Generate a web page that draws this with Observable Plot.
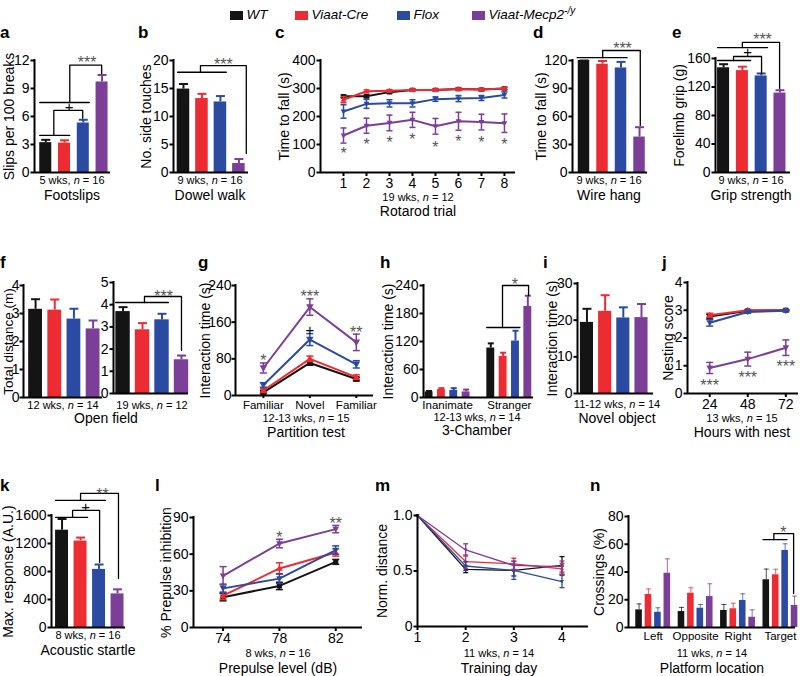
<!DOCTYPE html>
<html>
<head>
<meta charset="utf-8">
<script src="https://cdn.jsdelivr.net/npm/d3@7"></script>
<script src="https://cdn.jsdelivr.net/npm/@observablehq/plot@0.6"></script>
<style>
  html, body { margin: 0; padding: 0; background: #fff; }
  #fig { position: relative; width: 800px; height: 676px; overflow: hidden; background: #fff;
         font-family: "Liberation Sans", Arial, Helvetica, sans-serif; color: #000; }
  .lab { position: absolute; white-space: nowrap; transform: translateX(-50%); line-height: 1; }
  .let { position: absolute; font-weight: bold; font-size: 17px; line-height: 1; }
  .sw { position: absolute; width: 13px; height: 9px; }
  .lt { position: absolute; font-style: italic; font-size: 13.5px; line-height: 1; white-space: nowrap; }
  .lt sup { font-size: 10px; vertical-align: 0; position: relative; top: -5px; }
</style>
</head>
<body>
<div id="fig"></div>
<script>
// ---------------- data ----------------
const groups = ["WT", "Viaat-Cre", "Flox", "Viaat-Mecp2"];
const groupColors = ["#141414", "#ec2b32", "#2a4ba1", "#7b3f98"];

// (a) Footslips
const footslipsMean = [3.2, 3.15, 5.3, 9.7];
const footslipsSem  = [0.3, 0.3, 0.35, 0.75];
const footslipsTicks = [0, 3, 6, 9, 12];
// (b) Dowel walk
const dowelMean = [14.9, 13.2, 12.6, 1.6];
const dowelSem  = [0.9, 0.85, 1.05, 0.8];
const dowelTicks = [0, 5, 10, 15, 20];
// (c) Rotarod
const rotarodTrial = [1, 2, 3, 4, 5, 6, 7, 8];
const rotarodWT    = [272, 272, 287, 295, 295, 298, 296, 300];
const rotarodCre   = [260, 290, 292, 295, 295, 298, 296, 300];
const rotarodFlox  = [218, 245, 247, 247, 262, 264, 266, 277];
const rotarodMecp2 = [132, 167, 177, 188, 165, 183, 180, 176];
const rotarodWTSem    = [5, 5, 5, 4, 4, 4, 4, 4];
const rotarodCreSem   = [11, 5, 4, 4, 4, 4, 4, 4];
const rotarodFloxSem  = [24, 16, 13, 13, 8, 11, 9, 11];
const rotarodMecp2Sem = [27, 27, 28, 27, 28, 32, 28, 33];
const rotarodStarY = [81, 114, 120, 132, 102, 122, 120, 114];
const rotarodTicks = [0, 100, 200, 300, 400];
// (d) Wire hang
const wireMean = [120, 116, 112, 38];
const wireSem  = [0, 3.5, 6.5, 10.5];
const wireTicks = [0, 30, 60, 90, 120];
// (e) Grip strength
const gripMean = [147, 143, 135.5, 111.5];
const gripSem  = [5, 5.5, 3.5, 4];
const gripTicks = [0, 40, 80, 120, 160];
// (f) Open field
const openField12Mean = [3.15, 3.12, 2.8, 2.45];
const openField12Sem  = [0.36, 0.38, 0.37, 0.3];
const openField19Mean = [3.69, 2.87, 3.32, 1.52];
const openField19Sem  = [0.2, 0.3, 0.27, 0.19];
// (g) Partition test
const partitionPhase = ["Familiar", "Novel", "Familiar"];
const partitionWT    = [7, 71, 36];
const partitionCre   = [11, 80, 40];
const partitionFlox  = [23, 122, 68];
const partitionMecp2 = [60, 193, 116];
const partitionWTSem    = [3, 5, 4];
const partitionCreSem   = [4, 6, 5];
const partitionFloxSem  = [5, 13, 8];
const partitionMecp2Sem = [11, 18, 18];
const partitionTicks = [0, 80, 160, 240];
// (h) 3-Chamber
const chamberSide = ["Inanimate", "Stranger"];
const chamberInanimate    = [12, 17, 15, 12];
const chamberInanimateSem = [2, 3, 5, 5];
const chamberStranger     = [106, 88, 121, 195];
const chamberStrangerSem  = [10, 8, 22, 23];
const chamberTicks = [0, 60, 120, 180, 240];
// (i) Novel object
const novelObjectMean = [19.4, 22.4, 20.6, 20.7];
const novelObjectSem  = [3.7, 4.4, 2.9, 3.7];
const novelObjectTicks = [0, 10, 20, 30];
// (j) Nesting
const nestHours = [24, 48, 72];
const nestWT    = [2.77, 2.98, 3.0];
const nestCre   = [2.82, 3.0, 3.0];
const nestFlox  = [2.55, 2.94, 2.98];
const nestMecp2 = [0.92, 1.24, 1.65];
const nestWTSem    = [0.08, 0.03, 0.02];
const nestCreSem   = [0.07, 0.02, 0.02];
const nestFloxSem  = [0.12, 0.05, 0.03];
const nestMecp2Sem = [0.2, 0.25, 0.28];
const nestStarY = [0.41, 0.72, 1.11];
const nestTicks = [0, 1, 2, 3, 4];
// (k) Acoustic startle
const startleMean = [1390, 1235, 830, 480];
const startleSem  = [160, 50, 70, 65];
const startleTicks = [0, 400, 800, 1200, 1600];
// (l) Prepulse inhibition
const prepulseDb = [74, 78, 82];
const ppiWT    = [24.8, 34, 53.7];
const ppiCre   = [26, 48.3, 61.4];
const ppiFlox  = [32, 40, 63.3];
const ppiMecp2 = [42.3, 68.7, 80.5];
const ppiWTSem    = [3, 3, 2];
const ppiCreSem   = [3, 4.6, 3];
const ppiFloxSem  = [3.5, 4, 3.5];
const ppiMecp2Sem = [7.5, 3.5, 3];
const ppiTicks = [0, 30, 60, 90];
// (m) Training day
const trainingDay = [1, 2, 3, 4];
const mwmWT    = [1, 0.515, 0.505, 0.55];
const mwmCre   = [1, 0.585, 0.565, 0.52];
const mwmFlox  = [1, 0.545, 0.505, 0.405];
const mwmMecp2 = [1, 0.69, 0.55, 0.54];
const mwmWTSem    = [0, 0.03, 0.05, 0.08];
const mwmCreSem   = [0, 0.06, 0.05, 0.05];
const mwmFloxSem  = [0, 0.04, 0.08, 0.055];
const mwmMecp2Sem = [0, 0.055, 0.04, 0.05];
const mwmTicks = [0, 0.5, 1];
// (n) Probe trial crossings
const platform = ["Left", "Opposite", "Right", "Target"];
const crossWT    = [12.7, 11.5, 12.3, 34.4];
const crossCre   = [23.8, 24.7, 13.5, 38];
const crossFlox  = [11, 13.9, 19.5, 55.5];
const crossMecp2 = [39.1, 22.3, 7.4, 15.9];
const crossWTSem    = [4.3, 3, 4.3, 7.7];
const crossCreSem   = [4, 3.9, 4, 4];
const crossFloxSem  = [3.2, 2.7, 4.8, 4.8];
const crossMecp2Sem = [10.4, 9.2, 5.3, 6.7];
const crossTicks = [0, 20, 40, 60, 80];

// ---------------- helpers ----------------
const FONT = '"Liberation Sans", Arial, Helvetica, sans-serif';
const fig = document.getElementById("fig");
const M = 60;

const hcap = { draw(ctx, size) { const r = Math.sqrt(size / Math.PI); ctx.moveTo(-r, 0); ctx.lineTo(r, 0); } };
const symSquare = { draw(ctx, size) { const r = Math.sqrt(size / Math.PI) * 0.85; ctx.moveTo(-r, -r); ctx.lineTo(r, -r); ctx.lineTo(r, r); ctx.lineTo(-r, r); ctx.closePath(); } };
const symUp = { draw(ctx, size) { const r = Math.sqrt(size / Math.PI); ctx.moveTo(0, -r * 1.15); ctx.lineTo(r * 1.1, r * 0.8); ctx.lineTo(-r * 1.1, r * 0.8); ctx.closePath(); } };
const symDown = { draw(ctx, size) { const r = Math.sqrt(size / Math.PI); ctx.moveTo(0, r * 1.15); ctx.lineTo(r * 1.1, -r * 0.8); ctx.lineTo(-r * 1.1, -r * 0.8); ctx.closePath(); } };
const groupSymbols = [symSquare, symUp, symDown, symDown];

function barRows(means, sems, pos) {
  return means.map((m, k) => ({x: pos(k), m, s: sems[k], c: groupColors[k]}));
}
function seriesOf(xs, means, sems) {
  return means.map((mean, k) => ({k, xs, mean, sem: sems[k]}));
}

function panel(p) {
  const [fx0, fx1, fy0, fy1] = p.frame;
  const marks = [];
  const ew = p.ew ?? 2, capR = p.capR ?? 4.5, eo = p.eo ?? 1;
  if (p.bars) {
    marks.push(Plot.rectY(p.bars, {x1: d => d.x - p.hw, x2: d => d.x + p.hw, y1: 0, y2: "m", fill: "c"}));
    marks.push(Plot.ruleX(p.bars, {x: "x", y1: "m", y2: d => d.m + d.s, stroke: "c", strokeWidth: ew, strokeOpacity: eo}));
    marks.push(Plot.dot(p.bars, {x: "x", y: d => d.m + d.s, symbol: hcap, r: capR, fill: "none", stroke: "c", strokeWidth: ew, strokeOpacity: eo}));
  }
  if (p.series) {
    for (const s of p.series) {
      const col = groupColors[s.k];
      const rows = s.xs.map((x, j) => ({x, m: s.mean[j], s: s.sem[j]}));
      const err = rows.filter(d => d.s > 0);
      marks.push(Plot.line(rows, {x: "x", y: "m", stroke: col, strokeWidth: p.lw}));
      marks.push(Plot.ruleX(err, {x: "x", y1: d => d.m - d.s, y2: d => d.m + d.s, stroke: col, strokeWidth: p.lew}));
      marks.push(Plot.dot(err, {x: "x", y: d => d.m + d.s, symbol: hcap, r: p.lcap, fill: "none", stroke: col, strokeWidth: p.lew}));
      marks.push(Plot.dot(err, {x: "x", y: d => d.m - d.s, symbol: hcap, r: p.lcap, fill: "none", stroke: col, strokeWidth: p.lew}));
      marks.push(Plot.dot(rows, {x: "x", y: "m", symbol: groupSymbols[s.k], r: p.mr, fill: col, stroke: "none"}));
    }
  }
  // axes (Prism style)
  marks.push(Plot.ruleY([p.yd[0]], {x1: p.xd[0], x2: p.xd[1], stroke: "#000", strokeWidth: 2}));
  marks.push(Plot.ruleX([p.xd[0]], {y1: p.yd[0], y2: p.yd[1], stroke: "#000", strokeWidth: 2, strokeLinecap: "square"}));
  marks.push(Plot.axisY({ticks: p.yTicks, tickFormat: p.yFmt || (d => String(d)), tickSize: 3.5, tickPadding: p.yPad ?? 1.5,
    fontSize: 14, strokeWidth: 2, color: "#000", label: null}));
  if (p.xTicks) {
    marks.push(Plot.axisX({ticks: p.xTicks, tickFormat: p.xFmt || (d => String(d)), tickSize: p.xTickSize ?? 4,
      tickPadding: p.xPad ?? 2, fontSize: p.xFont ?? 14, strokeWidth: 2, color: "#000", label: null}));
  }
  if (p.ylab) {
    marks.push(Plot.text([p.ylab], {frameAnchor: "left", dx: -p.ydx, rotate: -90, textAnchor: "middle",
      lineAnchor: "middle", fontSize: p.yLabFont ?? 14, fill: "#000"}));
  }
  if (p.brackets) {
    const pts = p.brackets.flatMap((pl, id) => pl.map(([x, y]) => ({id, x, y})));
    marks.push(Plot.line(pts, {x: "x", y: "y", z: "id", stroke: "#000", strokeWidth: 1.3}));
  }
  if (p.stars) marks.push(Plot.text(p.stars, {x: "x", y: "y", text: "t", fontSize: 16, fill: "#555", dy: 4}));
  if (p.plus) marks.push(Plot.text(p.plus, {x: "x", y: "y", text: "t", fontSize: 15, fill: "#000"}));

  const svg = Plot.plot({
    width: fx1 - fx0 + 2 * M, height: fy1 - fy0 + 2 * M,
    marginLeft: M, marginRight: M, marginTop: M, marginBottom: M,
    x: {type: "linear", domain: p.xd, axis: null},
    y: {type: "linear", domain: p.yd, axis: null},
    color: {type: "identity"},
    marks
  });
  svg.style.position = "absolute";
  svg.style.left = (fx0 - M) + "px";
  svg.style.top = (fy0 - M) + "px";
  svg.style.overflow = "visible";
  svg.style.background = "transparent";
  svg.style.maxWidth = "none";
  svg.style.fontFamily = FONT;
  svg.style.fontSize = "14px";
  fig.appendChild(svg);
}

function text(html, cx, cy, size) {
  const d = document.createElement("div");
  d.className = "lab";
  d.style.left = cx + "px";
  d.style.top = (cy - size / 2) + "px";
  d.style.fontSize = size + "px";
  d.innerHTML = html;
  fig.appendChild(d);
}
function letter(t, x, baseline) {
  const d = document.createElement("div");
  d.className = "let";
  d.style.left = x + "px";
  d.style.top = (baseline - 14) + "px";
  d.textContent = t;
  fig.appendChild(d);
}

// ---------------- legend ----------------
const legendHtml = ["WT", "Viaat-Cre", "Flox", "Viaat-Mecp2<sup>-/y</sup>"];
const legendSwatchX = [230, 295, 397, 472];
groups.forEach((g, k) => {
  const sw = document.createElement("div");
  sw.className = "sw";
  sw.style.left = legendSwatchX[k] + "px";
  sw.style.top = "10.5px";
  sw.style.background = groupColors[k];
  fig.appendChild(sw);
  const t = document.createElement("div");
  t.className = "lt";
  t.style.left = (legendSwatchX[k] + 16.5) + "px";
  t.style.top = "8px";
  t.innerHTML = legendHtml[k];
  fig.appendChild(t);
});

// ---------------- panels ----------------
const simple = k => k;

// a
panel({frame: [34, 110, 60, 172], xd: [-0.6, 3.45], yd: [0, 12], yTicks: footslipsTicks,
  bars: barRows(footslipsMean, footslipsSem, simple), hw: 0.32,
  ylab: "Slips per 100 breaks", ydx: 25,
  brackets: [
    [[-0.32, 7.5], [2.32, 7.5]],
    [[1.28, 7.5], [1.28, 11.5], [2.98, 11.5], [2.98, 10.6]],
    [[-0.32, 3.97], [1.28, 3.97]],
    [[0.43, 3.97], [0.43, 6.65], [1.97, 6.65], [1.97, 5.8]]
  ],
  stars: [{x: 2.2, y: 12.2, t: "***"}],
  plus: [{x: 1.25, y: 6.97, t: "+"}]
});
// b
panel({frame: [173, 248, 60, 172], xd: [-0.54, 3.52], yd: [0, 20], yTicks: dowelTicks,
  bars: barRows(dowelMean, dowelSem, simple), hw: 0.34,
  ylab: "No. side touches", ydx: 26.5,
  brackets: [
    [[-0.32, 17.9], [2.32, 17.9]],
    [[0.92, 17.9], [0.92, 19.1], [3.4, 19.1], [3.4, 3.4]]
  ],
  stars: [{x: 2.16, y: 20.0, t: "***"}]
});
// c
panel({frame: [320, 515, 60, 172], xd: [0, 8.48], yd: [0, 400], yTicks: rotarodTicks,
  xTicks: rotarodTrial,
  series: seriesOf(rotarodTrial, [rotarodWT, rotarodCre, rotarodFlox, rotarodMecp2],
                   [rotarodWTSem, rotarodCreSem, rotarodFloxSem, rotarodMecp2Sem]),
  lw: 2, lew: 1.5, lcap: 3, mr: 2.6,
  ylab: "Time to fall (s)", ydx: 36,
  stars: rotarodTrial.map((x, j) => ({x, y: rotarodStarY[j], t: "*"}))
});
// d
panel({frame: [572, 647, 60, 172], xd: [-0.62, 3.43], yd: [0, 120], yTicks: wireTicks,
  bars: barRows(wireMean, wireSem, simple), hw: 0.31,
  ylab: "Time to fall (s)", ydx: 31,
  brackets: [
    [[-0.37, 123], [2.33, 123]],
    [[1.01, 123], [1.01, 130.7], [3.04, 130.7], [3.04, 50.4]]
  ],
  stars: [{x: 2.08, y: 136.5, t: "***"}]
});
// e
panel({frame: [715, 790, 58, 172], xd: [-0.43, 3.56], yd: [0, 160], yTicks: gripTicks,
  bars: barRows(gripMean, gripSem, simple), hw: 0.32,
  ylab: "Forelimb grip (g)", ydx: 36,
  brackets: [
    [[-0.32, 175.4], [2.34, 175.4]],
    [[1.0, 175.4], [1.0, 182.5], [2.98, 182.5], [2.98, 117.9]],
    [[-0.32, 157.2], [1.44, 157.2]],
    [[0.53, 157.2], [0.53, 162.8], [2.02, 162.8], [2.02, 139]]
  ],
  stars: [{x: 2.07, y: 192.3, t: "***"}],
  plus: [{x: 1.28, y: 168.4, t: "+"}]
});
// f (left, 12 wks)
panel({frame: [23, 102, 285, 397], xd: [-0.63, 3.49], yd: [0, 4], yTicks: [0, 1, 2, 3, 4],
  bars: barRows(openField12Mean, openField12Sem, simple), hw: 0.36, yPad: 0.5,
  ylab: "Total distance (m)", ydx: 15, yLabFont: 13.5
});
// f (right, 19 wks)
panel({frame: [113, 188, 282, 393], xd: [-0.49, 3.36], yd: [0, 5], yTicks: [0, 1, 2, 3, 4, 5],
  bars: barRows(openField19Mean, openField19Sem, simple), hw: 0.37,
  brackets: [
    [[-0.38, 4.1], [2.33, 4.1]],
    [[1.1, 4.1], [1.1, 4.37], [3.0, 4.37], [3.0, 1.94]]
  ],
  stars: [{x: 2.08, y: 4.55, t: "***"}]
});
// g
panel({frame: [235, 373, 285, 395], xd: [0.4, 3.37], yd: [0, 240], yTicks: partitionTicks,
  xTicks: [1, 2, 3], xFmt: d => partitionPhase[Math.round(d) - 1], xFont: 11.5, xTickSize: 3,
  series: seriesOf([1, 2, 3], [partitionWT, partitionCre, partitionFlox, partitionMecp2],
                   [partitionWTSem, partitionCreSem, partitionFloxSem, partitionMecp2Sem]),
  lw: 2, lew: 1.5, lcap: 3.5, mr: 3.4, yPad: 0.5,
  ylab: "Interaction time (s)", ydx: 30,
  stars: [{x: 1, y: 84, t: "*"}, {x: 2, y: 223, t: "***"}, {x: 3, y: 146, t: "**"}],
  plus: [{x: 2, y: 143, t: "+"}]
});
// h
panel({frame: [423, 533, 285, 397], xd: [-0.45, 8.46], yd: [0, 240], yTicks: chamberTicks,
  bars: [...barRows(chamberInanimate, chamberInanimateSem, k => k),
         ...barRows(chamberStranger, chamberStrangerSem, k => 5 + k)], hw: 0.32, capR: 3,
  xTicks: [1.5, 6.5], xFmt: d => chamberSide[Math.round((d - 1.5) / 5)], xFont: 11.5, xTickSize: 0, xPad: 3,
  ylab: "Interaction time (s)", ydx: 34.5,
  brackets: [
    [[4.67, 150], [7.36, 150]],
    [[5.95, 150], [5.95, 240], [8.06, 240], [8.06, 218.6]]
  ],
  stars: [{x: 6.95, y: 250, t: "*"}]
});
// i
panel({frame: [577, 653, 283, 393], xd: [-0.52, 3.66], yd: [0, 30], yTicks: novelObjectTicks,
  bars: barRows(novelObjectMean, novelObjectSem, simple), hw: 0.36,
  ylab: "Interaction time (s)", ydx: 25
});
// j
panel({frame: [687, 798, 282, 393], xd: [10, 80], yd: [0, 4], yTicks: nestTicks,
  xTicks: nestHours,
  series: seriesOf(nestHours, [nestWT, nestCre, nestFlox, nestMecp2],
                   [nestWTSem, nestCreSem, nestFloxSem, nestMecp2Sem]),
  lw: 2, lew: 1.5, lcap: 3.5, mr: 3,
  ylab: "Nesting score", ydx: 18.5,
  stars: nestHours.map((x, j) => ({x, y: nestStarY[j], t: "***"}))
});
// k
panel({frame: [51, 125, 515, 627], xd: [-0.57, 3.43], yd: [0, 1600], yTicks: startleTicks,
  bars: barRows(startleMean, startleSem, simple), hw: 0.35,
  ylab: "Max. response (A.U.)", ydx: 42.5,
  brackets: [
    [[-0.35, 1815], [2.35, 1815]],
    [[1.0, 1815], [1.0, 1915], [3.05, 1915], [3.05, 700]],
    [[-0.35, 1572], [1.38, 1572]],
    [[0.57, 1572], [0.57, 1672], [2.03, 1672], [2.03, 929]]
  ],
  stars: [{x: 2.19, y: 1958, t: "**"}],
  plus: [{x: 1.27, y: 1715, t: "+"}]
});
// l
panel({frame: [193, 362, 517, 627], xd: [71.9, 83.9], yd: [0, 90], yTicks: ppiTicks,
  xTicks: prepulseDb,
  series: seriesOf(prepulseDb, [ppiWT, ppiCre, ppiFlox, ppiMecp2],
                   [ppiWTSem, ppiCreSem, ppiFloxSem, ppiMecp2Sem]),
  lw: 2, lew: 1.5, lcap: 3.5, mr: 3,
  ylab: "% Prepulse inhibition", ydx: 26.5,
  stars: [{x: 78, y: 76.4, t: "*"}, {x: 82, y: 88, t: "**"}]
});
// m
panel({frame: [417, 588, 515, 626], xd: [1, 4.55], yd: [0, 1], yTicks: mwmTicks,
  yFmt: d => d === 0 ? "0" : d.toFixed(1),
  xTicks: trainingDay,
  series: seriesOf(trainingDay, [mwmWT, mwmCre, mwmFlox, mwmMecp2],
                   [mwmWTSem, mwmCreSem, mwmFloxSem, mwmMecp2Sem]),
  lw: 1.3, lew: 1.3, lcap: 2.5, mr: 1.8,
  ylab: "Norm. distance", ydx: 34.5
});
// n
const crossSeries = [crossWT, crossCre, crossFlox, crossMecp2];
const crossSems = [crossWTSem, crossCreSem, crossFloxSem, crossMecp2Sem];
const crossBars = platform.flatMap((loc, g) =>
  crossSeries.map((vals, k) => ({x: g * 4.5 + k, m: vals[g], s: crossSems[k][g], c: groupColors[k]})));
panel({frame: [628, 795, 516, 627], xd: [-1.12, 16.6], yd: [0, 80], yTicks: crossTicks,
  bars: crossBars, hw: 0.35, ew: 1, capR: 2.5, eo: 0.75,
  xTicks: [1.5, 6, 10.5, 15], xFmt: d => platform[Math.round((d - 1.5) / 4.5)], xFont: 11.5, xTickSize: 0, xPad: 4,
  ylab: "Crossings (%)", ydx: 29,
  brackets: [
    [[13.15, 63.4], [15.7, 63.4]],
    [[14.3, 63.4], [14.3, 67.7], [16.4, 67.7], [16.4, 24.5]]
  ],
  stars: [{x: 15.3, y: 71.3, t: "*"}]
});

// ---------------- captions ----------------
text("5 wks, <i>n</i> = 16", 72, 180, 11);      text("Footslips", 72, 195, 14);
text("9 wks, <i>n</i> = 16", 210, 180, 11);     text("Dowel walk", 210, 195, 14);
text("19 wks, <i>n</i> = 12", 418, 197, 11);    text("Rotarod trial", 418, 211, 14);
text("9 wks, <i>n</i> = 16", 609, 180, 11);     text("Wire hang", 609, 195, 14);
text("9 wks, <i>n</i> = 16", 751, 180, 11);     text("Grip strength", 751, 195, 14);
text("12 wks, <i>n</i> = 14", 63, 405, 11);
text("19 wks, <i>n</i> = 12", 152, 405, 11);    text("Open field", 106, 418, 14);
text("12-13 wks, <i>n</i> = 15", 306, 418, 11); text("Partition test", 306, 432, 14);
text("12-13 wks, <i>n</i> = 14", 477, 417, 11); text("3-Chamber", 477, 430, 14);
text("11-12 wks, <i>n</i> = 14", 617, 404, 11); text("Novel object", 617, 418, 14);
text("13 wks, <i>n</i> = 15", 742, 418, 11);    text("Hours with nest", 742, 432, 14);
text("8 wks, <i>n</i> = 16", 88, 635, 11);      text("Acoustic startle", 88, 650, 14);
text("8 wks, <i>n</i> = 16", 278, 653, 11);     text("Prepulse level (dB)", 278, 668, 14);
text("11 wks, <i>n</i> = 14", 499, 653, 11);    text("Training day", 499, 668, 14);
text("11 wks, <i>n</i> = 14", 712, 653, 11);    text("Platform location", 712, 668, 14);

// ---------------- panel letters ----------------
[["a", 0, 38], ["b", 138, 38], ["c", 275, 38], ["d", 533, 38], ["e", 672, 38],
 ["f", 0, 268], ["g", 198, 268], ["h", 380, 268], ["i", 543, 268], ["j", 662, 268],
 ["k", 0, 491], ["l", 155, 491], ["m", 375, 491], ["n", 590, 491]].forEach(([t, x, b]) => letter(t, x, b));
</script>
</body>
</html>
